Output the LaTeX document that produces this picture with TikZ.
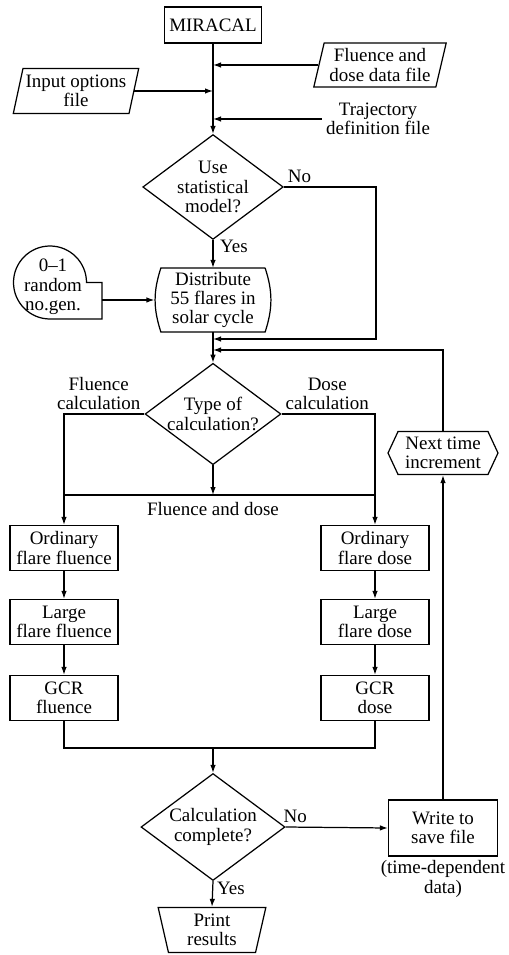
\documentclass[tikz,border=0pt]{standalone}
\usepackage{fontspec}
\setmainfont{Liberation Serif}
\usetikzlibrary{shapes.geometric,shapes.symbols,arrows.meta}

\begin{document}
\begin{tikzpicture}[x=0.02cm, y=-0.02cm, line width=0.7pt,
    >={Latex[length=1.6mm,width=1.1mm]},
    font=\fontsize{10.8}{11}\selectfont,
    box/.style={draw, rectangle, align=center, minimum width=2.16cm, minimum height=0.9cm, inner sep=1pt},
    datafile/.style={draw, trapezium, trapezium left angle=75, trapezium right angle=105,
      trapezium stretches=true, align=center, inner sep=1pt},
    decision/.style={draw, diamond, aspect=1.34, align=center, inner sep=0pt,
      minimum width=2.6cm, minimum height=1.94cm},
    lbl/.style={inner sep=2pt, align=center}]

    \useasboundingbox (0,0) rectangle (508,955);

    % Start and input files
    \node[box, minimum width=1.94cm, minimum height=0.72cm] (miracal) at (213,25) {MIRACAL};
    \node[datafile, minimum width=2.66cm, minimum height=0.88cm] (fluencefile) at (380,65) {Fluence and\\dose data file};
    \node[datafile, minimum width=2.52cm, minimum height=0.9cm] (inputfile) at (76,91) {Input options\\file};
    \node[lbl] (trajfile) at (378,119) {Trajectory\\definition file};

    % Statistical model
    \node[decision] (use) at (213,187) {Use\\statistical\\model?};
    \draw[->] (miracal) -- (use);
    \draw[->] (fluencefile.west) -- (fluencefile.west -| miracal.south);
    \draw[->] (inputfile.east) -- (inputfile.east -| miracal.south);
    \draw[->] (trajfile.west) -- (trajfile.west -| miracal.south);

    \node[align=center, minimum width=2.06cm, minimum height=1.26cm, inner sep=0pt] (dist) at (213,300) {Distribute\\55 flares in\\solar cycle};
    \draw (dist.north east) -- (dist.north west) to[bend right=18] (dist.south west)
      -- (dist.south east) to[bend right=18] (dist.north east);
    \draw[->] (use.south) -- (dist.north);
    \node[lbl, below right, xshift=0.6mm, yshift=0.8mm] (yesuse) at (use.south) {Yes};
    \node[lbl, above right] (nouse) at (use.east) {No};

    % Random number generator
    \node[lbl] (rng) at (53,287) {0--1\\random\\no.gen.};
    \draw (50,319) arc[start angle=90, end angle=360, radius=36.5] -- (102,282.5) -- (102,319) -- cycle;
    \coordinate (rngtab) at (102,300);
    \draw[->] (rngtab) -- ([xshift=-1.3mm]dist.west);

    % Type of calculation
    \node[decision] (type) at (213,414) {Type of\\calculation?};
    \coordinate (nojoin) at (213,339);
    \coordinate (nocorner) at (376,339);
    \coordinate (loopjoin) at (213,350);
    \draw (dist.south) -- (nojoin);
    \draw[->] (nojoin) -- (type.north);
    \draw[->] (use.east) -| (nocorner) -- (nojoin);
    \node[lbl, above left] (flclbl) at (type.west) {Fluence\\calculation};
    \node[lbl, above right] (dsclbl) at (type.east) {Dose\\calculation};

    % Fluence and dose branches
    \node[box] (ordfl) at (64,548) {Ordinary\\flare fluence};
    \node[box] (lrgfl) at (64,622) {Large\\flare fluence};
    \node[box] (gcrfl) at (64,698) {GCR\\fluence};
    \node[box] (ordds) at (375,548) {Ordinary\\flare dose};
    \node[box] (lrgds) at (375,622) {Large\\flare dose};
    \node[box] (gcrds) at (375,698) {GCR\\dose};

    \coordinate (bothjoin) at (213,495);
    \draw[->] (type.west) -| (ordfl.north);
    \draw[->] (type.east) -| (ordds.north);
    \draw[->] (type.south) -- (bothjoin);
    \draw (bothjoin -| ordfl.north) -- (bothjoin -| ordds.north);
    \node[lbl, below, yshift=-0.6mm] (bothlbl) at (bothjoin) {Fluence and dose};

    \draw[->] (ordfl) -- (lrgfl);
    \draw[->] (lrgfl) -- (gcrfl);
    \draw[->] (ordds) -- (lrgds);
    \draw[->] (lrgds) -- (gcrds);

    % Completion and time loop
    \node[decision, minimum width=2.88cm, minimum height=2.14cm] (done) at (213,827) {Calculation\\complete?};
    \node[box, minimum width=2.18cm, minimum height=1.12cm] (write) at (443,828) {Write to\\save file};
    \node[lbl, below] (tdlbl) at (write.south) {(time-dependent\\data)};
    \node[draw, signal, signal to=east and west, signal pointer angle=130, align=center,
      minimum width=2.2cm, minimum height=0.86cm, inner sep=1pt] (next) at (443,453) {Next time\\increment};
    \node[draw, trapezium, trapezium left angle=80, trapezium right angle=80, shape border rotate=180,
      trapezium stretches=true, align=center, minimum width=2.16cm, minimum height=0.9cm, inner sep=1pt] (print) at (212,930) {Print\\results};

    \coordinate (merge) at (213,748);
    \draw (gcrfl.south) |- (merge) -| (gcrds.south);
    \draw[->] (merge) -- (done.north);
    \draw[->] (done.east) -- (write.west);
    \node[lbl, above right, xshift=-1.2mm] (nodone) at (done.east) {No};
    \draw[->] (done.south) -- (print.north);
    \node[lbl, below right, yshift=0.6mm] (yesdone) at (done.south) {Yes};
    \draw[->] (write.north) -- (next.south);
    \draw[->] (next.north) |- (loopjoin);
\end{tikzpicture}
\end{document}
